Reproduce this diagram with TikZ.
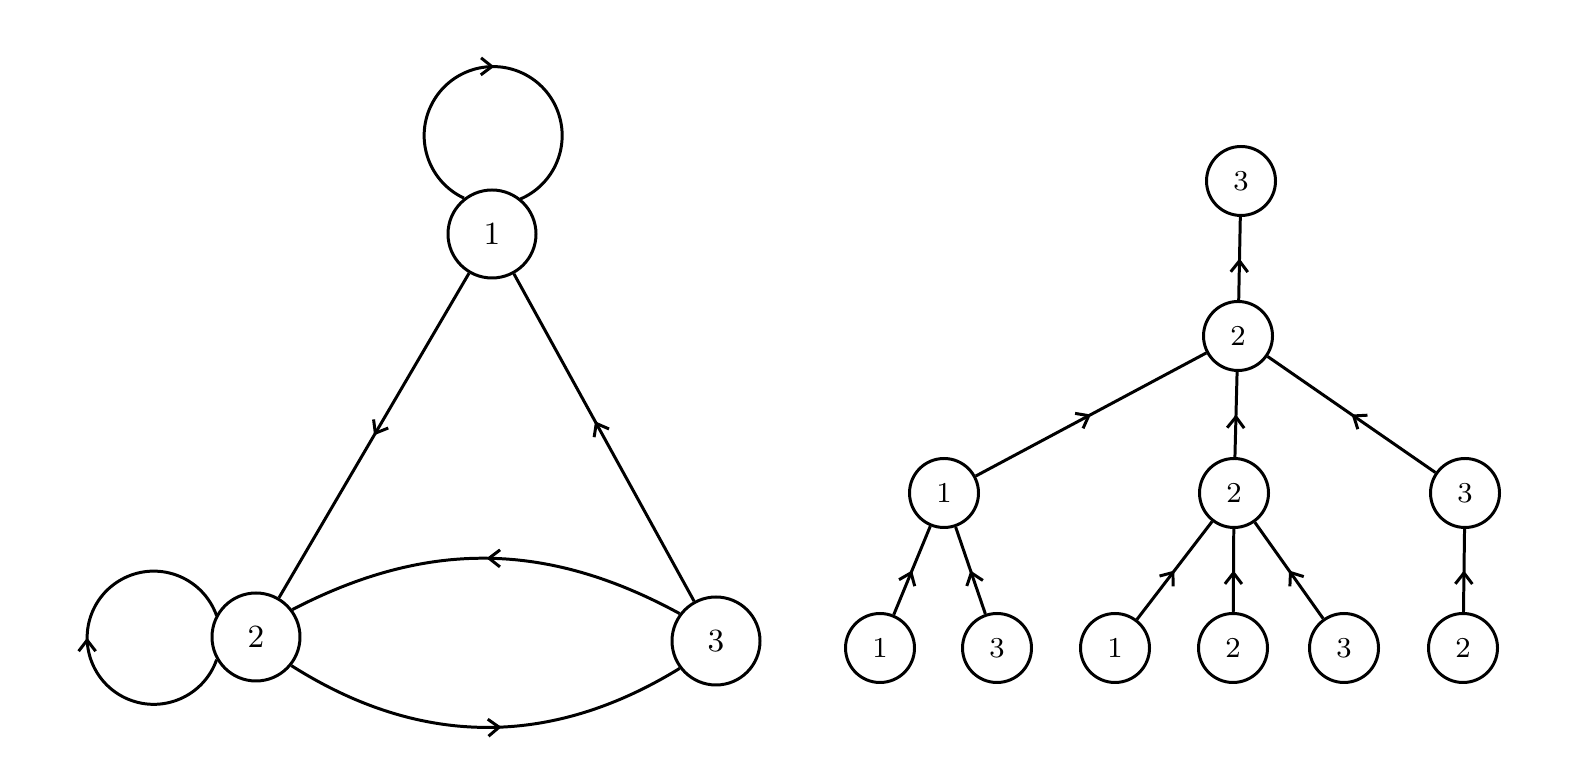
\documentclass[tikz,border=0pt]{standalone}
\usetikzlibrary{arrows.meta,decorations.markings}
\begin{document}
\begin{tikzpicture}[x=0.1mm,y=0.1mm,line width=0.85pt,
  gnode/.style={circle,draw,minimum size=8.8mm,inner sep=0pt,font=\fontsize{9.2}{10}\selectfont},
  tnode/.style={circle,draw,minimum size=6.9mm,inner sep=0pt,font=\fontsize{8.2}{9}\selectfont},
  marr/.style={postaction={decorate},decoration={markings,mark=at position #1 with {\arrow{Straight Barb[length=1.1mm,width=1.7mm]}}}},
  marr/.default=0.5]
\useasboundingbox (0,0) rectangle (1575,759);
% left graph
\node[gnode] (n1) at (492,525) {1};
\node[gnode] (n2) at (256,122) {2};
\node[gnode] (n3) at (716,118) {3};
\draw[marr] (n1.128) arc[start angle=245,end angle=-67,radius=6.9mm];
\draw[marr] (n2.210) arc[start angle=-19.3,end angle=-340.7,radius=6.66mm];
\draw[marr] (n1) -- (n2);
\draw[marr=0.55] (n3) -- (n1);
\draw[marr] (n3.143) to[bend right=28] (n2.37);
\draw[marr=0.54] (n2.-39) to[bend right=32] (n3.217);
% tree
\node[tnode] (t3) at (1241,578) {3};
\node[tnode] (t2) at (1238,423) {2};
\node[tnode] (a1) at (944,266) {1};
\node[tnode] (a2) at (1234,266) {2};
\node[tnode] (a3) at (1465,266) {3};
\node[tnode] (b1) at (880,111) {1};
\node[tnode] (b3) at (997,111) {3};
\node[tnode] (c1) at (1115,111) {1};
\node[tnode] (c2) at (1233,111) {2};
\node[tnode] (c3) at (1344,111) {3};
\node[tnode] (d2) at (1463,111) {2};
\draw[marr] (t2) -- (t3);
\draw[marr] (a1) -- (t2);
\draw[marr] (a2) -- (t2);
\draw[marr] (a3) -- (t2);
\draw[marr] (b1) -- (a1);
\draw[marr] (b3) -- (a1);
\draw[marr] (c1) -- (a2);
\draw[marr] (c2) -- (a2);
\draw[marr] (c3) -- (a2);
\draw[marr] (d2) -- (a3);
\end{tikzpicture}
\end{document}
